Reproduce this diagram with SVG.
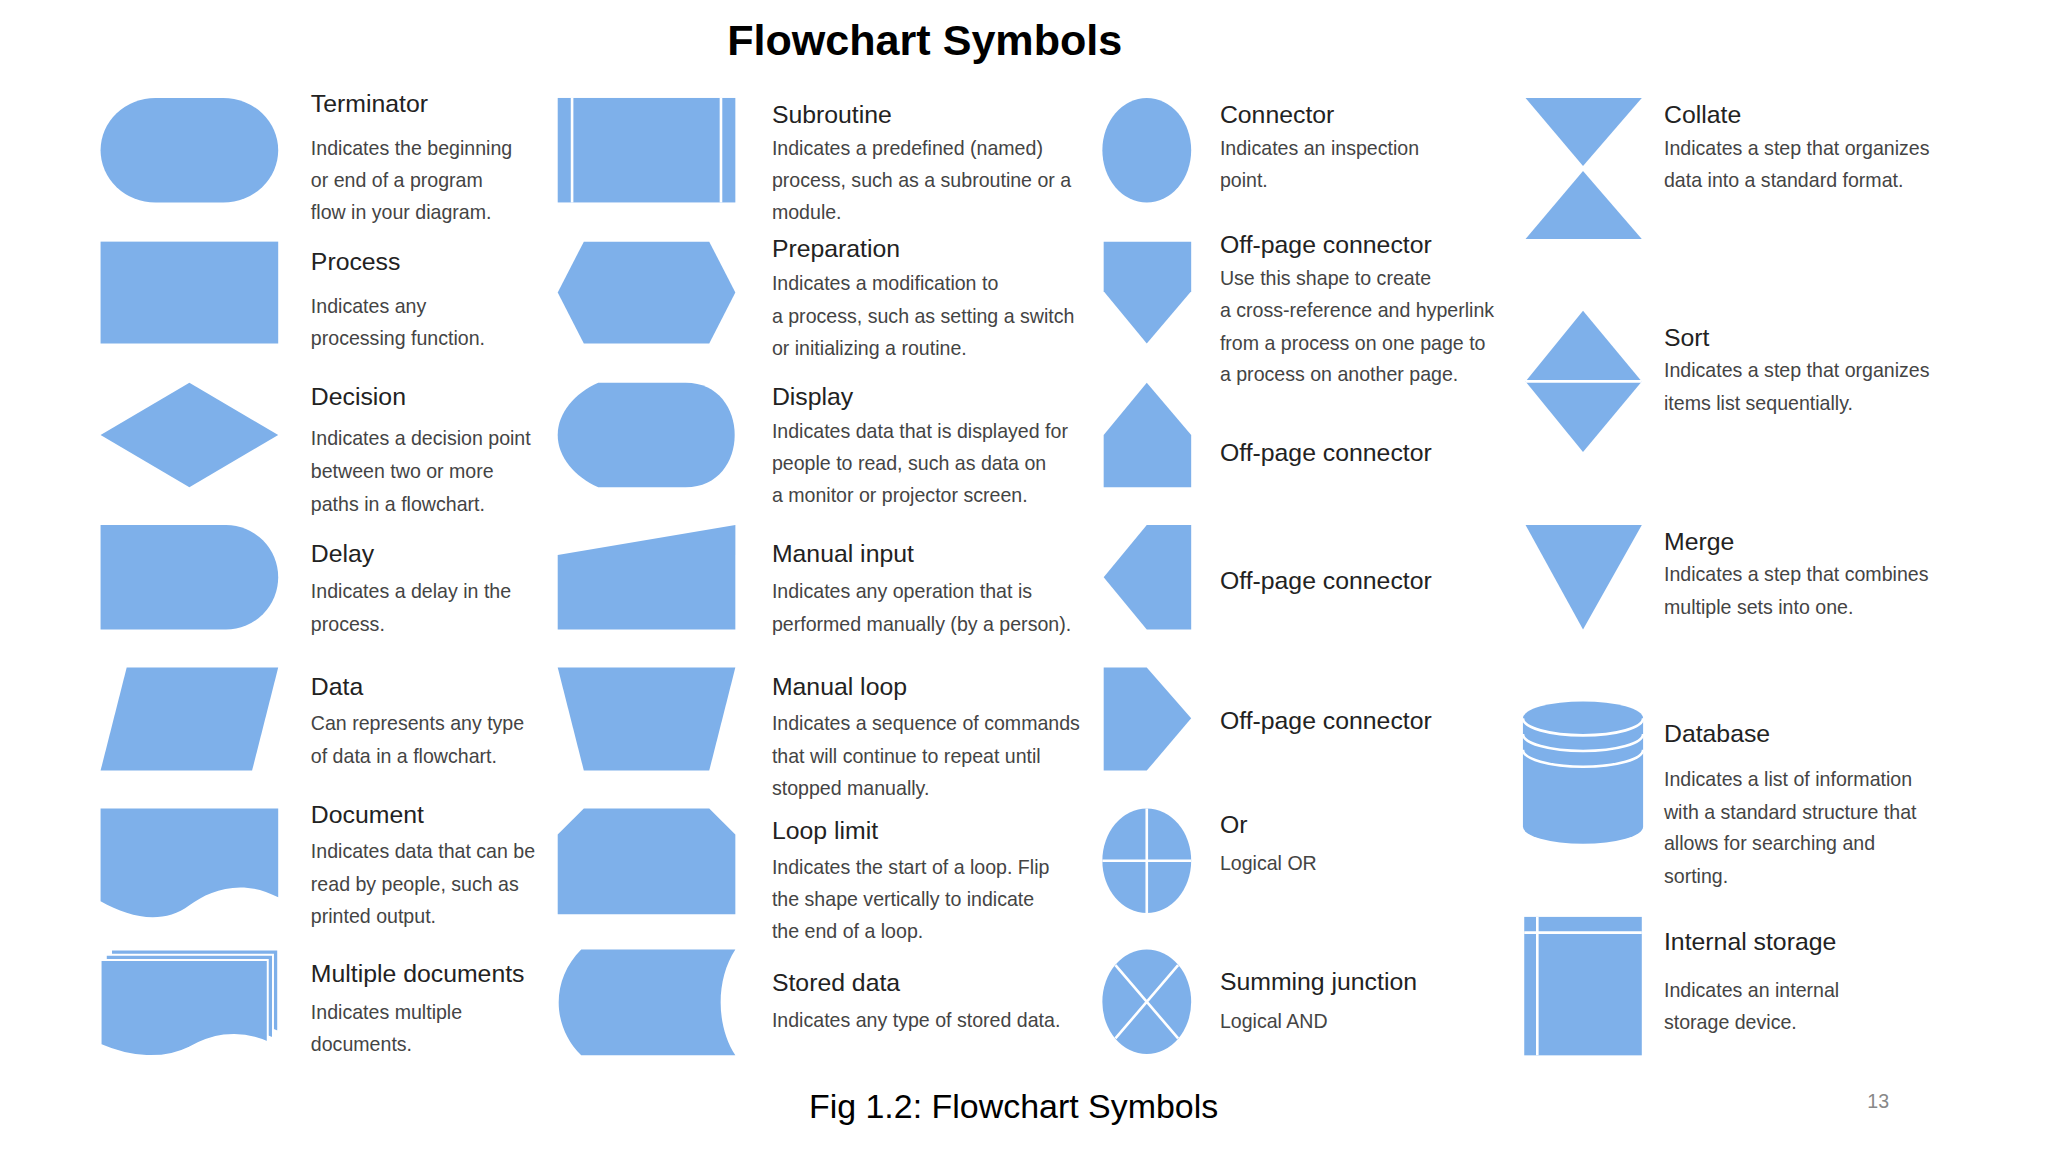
<svg xmlns="http://www.w3.org/2000/svg" width="2048" height="1152" viewBox="0 0 2048 1152">
<style>
.s{fill:#7eb0ea}
.w{stroke:#fff;stroke-width:2;fill:none}
.h{font-family:"Liberation Sans",Arial,sans-serif;font-size:19px;fill:#222}
.d{font-family:"Liberation Sans",Arial,sans-serif;font-size:15px;fill:#444}
</style>
<rect width="2048" height="1152" fill="#fff"/>
<g transform="scale(1.30612)">
<text x="708" y="42" text-anchor="middle" font-family="Liberation Sans,Arial,sans-serif" font-size="33" font-weight="bold" fill="#000">Flowchart Symbols</text>
<text x="776" y="856" text-anchor="middle" font-family="Liberation Sans,Arial,sans-serif" font-size="26" fill="#000">Fig 1.2: Flowchart Symbols</text>
<text x="1438" y="848" text-anchor="middle" font-family="Liberation Sans,Arial,sans-serif" font-size="15" fill="#888">13</text>

<g id="terminator"><rect class="s" x="77" y="75" width="136" height="80" rx="42" ry="40"/><text class="h" x="238" y="86">Terminator</text><text class="d"><tspan x="238" y="119">Indicates the beginning</tspan><tspan x="238" y="143">or end of a program</tspan><tspan x="238" y="168">flow in your diagram.</tspan></text></g>
<g id="process"><rect class="s" x="77" y="185" width="136" height="78"/><text class="h" x="238" y="207">Process</text><text class="d"><tspan x="238" y="240">Indicates any</tspan><tspan x="238" y="264">processing function.</tspan></text></g>
<g id="decision"><polygon class="s" points="77,333 145,293 213,333 145,373"/><text class="h" x="238" y="310">Decision</text><text class="d"><tspan x="238" y="341">Indicates a decision point</tspan><tspan x="238" y="366">between two or more</tspan><tspan x="238" y="391">paths in a flowchart.</tspan></text></g>
<g id="delay"><path class="s" d="M77,402 H173 A40,40 0 0 1 173,482 H77 Z"/><text class="h" x="238" y="430">Delay</text><text class="d"><tspan x="238" y="458">Indicates a delay in the</tspan><tspan x="238" y="483">process.</tspan></text></g>
<g id="data"><polygon class="s" points="97,511 213,511 193,590 77,590"/><text class="h" x="238" y="532">Data</text><text class="d"><tspan x="238" y="559">Can represents any type</tspan><tspan x="238" y="584">of data in a flowchart.</tspan></text></g>
<g id="document"><path class="s" d="M77,619 H213 V687 C185,672 160,682 145,693 C125,708 100,703 77,690 Z"/><text class="h" x="238" y="630">Document</text><text class="d"><tspan x="238" y="657">Indicates data that can be</tspan><tspan x="238" y="682">read by people, such as</tspan><tspan x="238" y="707">printed output.</tspan></text></g>
<g id="multiple-documents">
<path class="s" stroke="#fff" stroke-width="1.5" d="M85,727 H213 V790 C195,782 185,785 175,790 L85,790 Z"/>
<path class="s" stroke="#fff" stroke-width="1.5" d="M81,731 H209 V795 C190,785 170,790 160,797 L81,797 Z"/>
<path class="s" stroke="#fff" stroke-width="1.5" d="M77,735 H205 V798 C180,787 160,794 145,802 C125,812 100,810 77,800 Z"/>
<text class="h" x="238" y="752">Multiple documents</text><text class="d"><tspan x="238" y="780">Indicates multiple</tspan><tspan x="238" y="805">documents.</tspan></text></g>

<g id="subroutine"><rect class="s" x="427" y="75" width="136" height="80"/><path class="w" d="M438,75 V155 M552,75 V155"/><text class="h" x="591" y="94">Subroutine</text><text class="d"><tspan x="591" y="119">Indicates a predefined (named)</tspan><tspan x="591" y="143">process, such as a subroutine or a</tspan><tspan x="591" y="168">module.</tspan></text></g>
<g id="preparation"><polygon class="s" points="427,224 447,185 543,185 563,224 543,263 447,263"/><text class="h" x="591" y="197">Preparation</text><text class="d"><tspan x="591" y="222">Indicates a modification to</tspan><tspan x="591" y="247">a process, such as setting a switch</tspan><tspan x="591" y="272">or initializing a routine.</tspan></text></g>
<g id="display"><path class="s" d="M458,293 H525 C575,293 575,373 525,373 H458 C440,365 427,350 427,333 C427,316 440,301 458,293 Z"/><text class="h" x="591" y="310">Display</text><text class="d"><tspan x="591" y="335">Indicates data that is displayed for</tspan><tspan x="591" y="360">people to read, such as data on</tspan><tspan x="591" y="384">a monitor or projector screen.</tspan></text></g>
<g id="manual-input"><polygon class="s" points="427,425 563,402 563,482 427,482"/><text class="h" x="591" y="430">Manual input</text><text class="d"><tspan x="591" y="458">Indicates any operation that is</tspan><tspan x="591" y="483">performed manually (by a person).</tspan></text></g>
<g id="manual-loop"><polygon class="s" points="427,511 563,511 543,590 447,590"/><text class="h" x="591" y="532">Manual loop</text><text class="d"><tspan x="591" y="559">Indicates a sequence of commands</tspan><tspan x="591" y="584">that will continue to repeat until</tspan><tspan x="591" y="609">stopped manually.</tspan></text></g>
<g id="loop-limit"><polygon class="s" points="447,619 543,619 563,639 563,700 427,700 427,639"/><text class="h" x="591" y="642">Loop limit</text><text class="d"><tspan x="591" y="669">Indicates the start of a loop. Flip</tspan><tspan x="591" y="694">the shape vertically to indicate</tspan><tspan x="591" y="718">the end of a loop.</tspan></text></g>
<g id="stored-data"><path class="s" d="M445,727 H563 C548,750 548,785 563,808 H445 C422,785 422,750 445,727 Z"/><text class="h" x="591" y="759">Stored data</text><text class="d" x="591" y="786">Indicates any type of stored data.</text></g>

<g id="connector"><ellipse class="s" cx="878" cy="115" rx="34" ry="40"/><text class="h" x="934" y="94">Connector</text><text class="d"><tspan x="934" y="119">Indicates an inspection</tspan><tspan x="934" y="143">point.</tspan></text></g>
<g id="off-page-1"><polygon class="s" points="845,185 912,185 912,223 878,263 845,223"/><text class="h" x="934" y="194">Off-page connector</text><text class="d"><tspan x="934" y="218">Use this shape to create</tspan><tspan x="934" y="243">a cross-reference and hyperlink</tspan><tspan x="934" y="268">from a process on one page to</tspan><tspan x="934" y="292">a process on another page.</tspan></text></g>
<g id="off-page-2"><polygon class="s" points="878,293 912,333 912,373 845,373 845,333"/><text class="h" x="934" y="353">Off-page connector</text></g>
<g id="off-page-3"><polygon class="s" points="845,442 878,402 912,402 912,482 878,482"/><text class="h" x="934" y="451">Off-page connector</text></g>
<g id="off-page-4"><polygon class="s" points="845,511 878,511 912,550 878,590 845,590"/><text class="h" x="934" y="558">Off-page connector</text></g>
<g id="or"><ellipse class="s" cx="878" cy="659" rx="34" ry="40"/><path class="w" d="M878,619 V699 M844,659 H912"/><text class="h" x="934" y="638">Or</text><text class="d" x="934" y="666">Logical OR</text></g>
<g id="summing-junction"><ellipse class="s" cx="878" cy="767" rx="34" ry="40"/><path class="w" d="M854,739 L902,795 M902,739 L854,795"/><text class="h" x="934" y="758">Summing junction</text><text class="d" x="934" y="787">Logical AND</text></g>

<g id="collate"><polygon class="s" points="1168,75 1257,75 1212,127"/><polygon class="s" points="1212,131 1257,183 1168,183"/><text class="h" x="1274" y="94">Collate</text><text class="d"><tspan x="1274" y="119">Indicates a step that organizes</tspan><tspan x="1274" y="143">data into a standard format.</tspan></text></g>
<g id="sort"><polygon class="s" points="1168,292 1212,238 1257,292 1212,346"/><path class="w" d="M1168,292 H1257"/><text class="h" x="1274" y="265">Sort</text><text class="d"><tspan x="1274" y="289">Indicates a step that organizes</tspan><tspan x="1274" y="314">items list sequentially.</tspan></text></g>
<g id="merge"><polygon class="s" points="1168,402 1257,402 1212,482"/><text class="h" x="1274" y="421">Merge</text><text class="d"><tspan x="1274" y="445">Indicates a step that combines</tspan><tspan x="1274" y="470">multiple sets into one.</tspan></text></g>
<g id="database"><path class="s" d="M1166,550 A46,13 0 0 1 1258,550 V633 A46,13 0 0 1 1166,633 Z"/><path class="w" d="M1166,550 A46,13 0 0 0 1258,550 M1166,562 A46,13 0 0 0 1258,562 M1166,574 A46,13 0 0 0 1258,574"/><text class="h" x="1274" y="568">Database</text><text class="d"><tspan x="1274" y="602">Indicates a list of information</tspan><tspan x="1274" y="627">with a standard structure that</tspan><tspan x="1274" y="651">allows for searching and</tspan><tspan x="1274" y="676">sorting.</tspan></text></g>
<g id="internal-storage"><rect class="s" x="1167" y="702" width="90" height="106"/><path class="w" d="M1177,702 V808 M1167,714 H1257"/><text class="h" x="1274" y="727">Internal storage</text><text class="d"><tspan x="1274" y="763">Indicates an internal</tspan><tspan x="1274" y="788">storage device.</tspan></text></g>
<g id="connectors"/>
</g>
</svg>
